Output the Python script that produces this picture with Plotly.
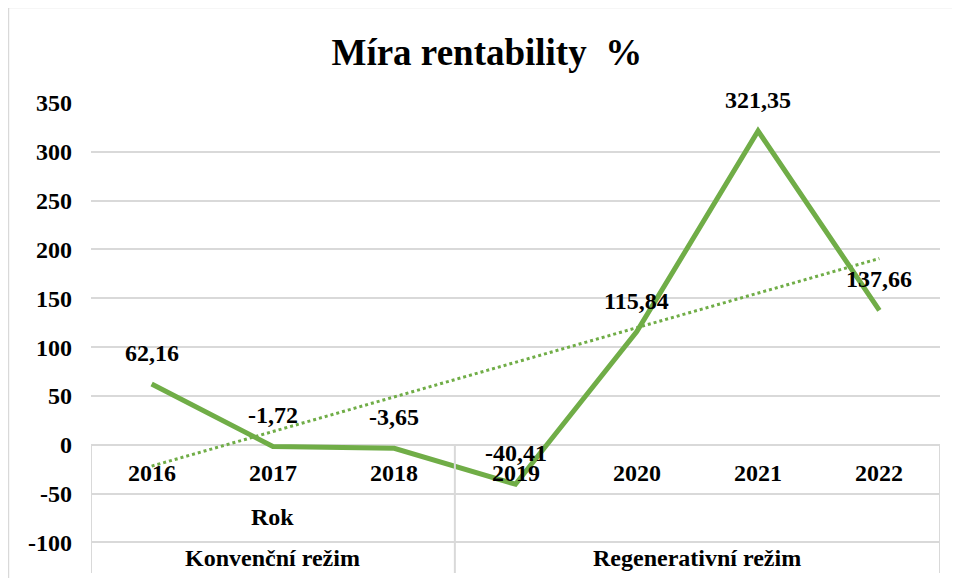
import numpy as np
import plotly.graph_objects as go

# Míra rentability v jednotlivých letech
roky = ['2016', '2017', '2018', '2019', '2020', '2021', '2022']
rentabilita = [62.16, -1.72, -3.65, -40.41, 115.84, 321.35, 137.66]
skupiny = [('Konvenční režim', 0, 2), ('Regenerativní režim', 3, 6)]

zelena = '#70AD47'
seda = '#D9D9D9'
y_min, y_max = -131.3, 350
y_ticks = list(range(-100, 351, 50))

# lineární trend
idx = np.arange(len(roky))
k, q = np.polyfit(idx, rentabilita, 1)
trend = k * idx + q

fig = go.Figure()
fig.add_trace(go.Scatter(
    x=roky, y=trend, mode='lines',
    line=dict(color=zelena, width=3, dash='dot'),
    hoverinfo='skip', showlegend=False,
))
fig.add_trace(go.Scatter(
    x=roky, y=rentabilita, mode='lines',
    line=dict(color=zelena, width=5),
    showlegend=False,
))

# popisky hodnot (x jako index kategorie)
for i, v in enumerate(rentabilita):
    fig.add_annotation(x=i, y=v, text=f'{v:.2f}'.replace('.', ','),
                       showarrow=False, yshift=31, font=dict(size=24))

# víceúrovňová osa x (rok / skupina)
for i, rok in enumerate(roky):
    fig.add_annotation(x=i, y=-29, text=rok, showarrow=False, font=dict(size=24))
fig.add_annotation(x=1, y=-73.6, text='Rok', showarrow=False, font=dict(size=24))
for nazev, a, b in skupiny:
    fig.add_annotation(x=(a + b) / 2, y=-116, text=nazev, showarrow=False, font=dict(size=24))
    fig.add_shape(type='line', xref='x', yref='y', x0=a - 0.5, x1=a - 0.5, y0=0, y1=y_min,
                  line=dict(color=seda, width=2))
fig.add_shape(type='line', xref='x', yref='y', x0=6.5, x1=6.5, y0=0, y1=y_min,
              line=dict(color=seda, width=2))

# rámeček grafu
fig.add_shape(type='rect', xref='paper', yref='paper', x0=-0.0972, x1=1.05, y0=-0.05, y1=1.2032,
              line=dict(color=seda, width=1.5), layer='below')

fig.update_layout(
    width=952, height=570,
    margin=dict(l=83, r=20, t=95, b=5),
    title=dict(text='Míra rentability\u00a0 %', x=0.503, xanchor='center',
               y=1 - 44 / 570, yanchor='middle', font=dict(size=37)),
    font=dict(family='Liberation Serif', weight='bold', color='black'),
    plot_bgcolor='white',
    paper_bgcolor='white',
    xaxis=dict(type='category', range=[-0.5, 6.5], showticklabels=False,
               showgrid=False, zeroline=False, showline=False),
    yaxis=dict(range=[y_min, y_max], tickvals=y_ticks, ticktext=[str(t) for t in y_ticks],
               gridcolor=seda, gridwidth=2, zeroline=True, zerolinecolor=seda, zerolinewidth=2,
               tickfont=dict(size=24), ticklabelstandoff=18, showline=False),
)

fig.write_html('out.html')
